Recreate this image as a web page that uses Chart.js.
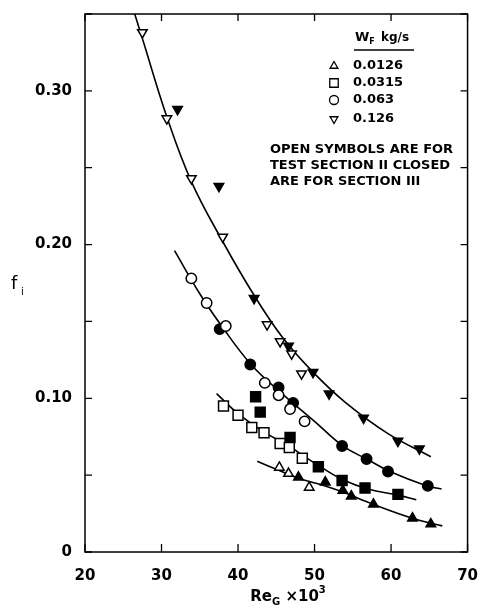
<!DOCTYPE html>
<html lang="en">
<head>
<meta charset="UTF-8">
<title>Interfacial friction factor vs gas Reynolds number</title>
<script src="https://cdn.jsdelivr.net/npm/chart.js@4"></script>
<style>
    * { margin: 0; padding: 0; box-sizing: border-box; }
    body { background: #fff; width: 485px; height: 609px; overflow: hidden; }
    canvas { display: block; }
</style>
</head>
<body>
<canvas id="chart" width="485" height="609"></canvas>
<script>
// f_i against Re_G x 10^3 for four liquid flow rates W_F (kg/s)
const flowRates = ['0.0126', '0.0315', '0.063', '0.126'];
const xTickLabels = ['20', '30', '40', '50', '60', '70'];
const yTickLabels = ['0', '0.10', '0.20', '0.30'];
const noteLines = ['OPEN SYMBOLS ARE FOR', 'TEST SECTION II CLOSED', 'ARE FOR SECTION III'];

// [Re_G x 10^3, f_i]
// W_F = 0.0126 (triangles)
const open0126 = [[45.4, 0.055], [46.6, 0.051], [49.3, 0.042]];
const closed0126 = [[47.9, 0.0486], [51.4, 0.0454], [53.7, 0.040], [54.8, 0.0363], [57.7, 0.031], [62.8, 0.022], [65.2, 0.0182]];
const curve0126 = [[42.5, 0.059], [45.4, 0.053], [47.9, 0.048], [51.4, 0.043], [53.7, 0.039], [57.7, 0.031], [62.8, 0.022], [66.7, 0.017]];

// W_F = 0.0315 (squares)
const open0315 = [[38.1, 0.095], [40.0, 0.089], [41.8, 0.081], [43.4, 0.0776], [45.5, 0.0706], [46.7, 0.068], [48.4, 0.061]];
const closed0315 = [[42.3, 0.101], [42.9, 0.091], [46.8, 0.0745], [50.5, 0.0555], [53.6, 0.0465], [56.6, 0.0416], [60.9, 0.0375]];
const curve0315 = [[37.2, 0.103], [40.0, 0.090], [43.4, 0.078], [46.7, 0.069], [48.4, 0.063], [50.6, 0.056], [53.7, 0.047], [57.0, 0.041], [60.9, 0.037], [63.3, 0.034]];

// W_F = 0.063 (circles)
const open063 = [[33.9, 0.178], [35.9, 0.162], [38.4, 0.147], [43.5, 0.110], [45.3, 0.102], [46.8, 0.093], [48.7, 0.085]];
const closed063 = [[37.6, 0.145], [41.6, 0.122], [45.3, 0.107], [47.2, 0.097], [53.6, 0.069], [56.8, 0.0605], [59.6, 0.0524], [64.8, 0.043]];
const curve063 = [[31.7, 0.196], [35.0, 0.168], [38.0, 0.146], [41.7, 0.122], [45.3, 0.105], [50.0, 0.085], [53.7, 0.069], [57.0, 0.060], [60.0, 0.052], [64.7, 0.043], [66.6, 0.041]];

// W_F = 0.126 (inverted triangles)
const open126 = [[27.5, 0.338], [30.7, 0.282], [33.9, 0.243], [38.0, 0.205], [43.8, 0.148], [45.5, 0.137], [47.0, 0.129], [48.3, 0.116]];
const closed126 = [[32.1, 0.288], [37.5, 0.238], [42.1, 0.165], [46.6, 0.134], [49.8, 0.117], [51.9, 0.103], [56.4, 0.0872], [60.9, 0.0722], [63.7, 0.0672]];
const curve126 = [[26.5, 0.350], [27.5, 0.334], [30.7, 0.283], [33.9, 0.241], [38.0, 0.202], [42.1, 0.167], [45.9, 0.139], [49.8, 0.117], [54.1, 0.097], [59.6, 0.077], [65.2, 0.062]];

const FONT = 'DejaVu Sans';
const pts = arr => arr.map(([x, y]) => ({ x: x, y: y }));

const markerRadius = { triangle: 5.5, rect: 7, circle: 5.2 };

function markers(arr, style, rot, filled) {
    return {
        type: 'scatter',
        data: pts(arr),
        pointStyle: style,
        rotation: rot,
        pointRadius: markerRadius[style],
        backgroundColor: filled ? '#000' : '#fff',
        borderColor: '#000',
        borderWidth: 1.5,
        order: 0
    };
}

function curve(arr) {
    return {
        type: 'line',
        data: pts(arr),
        borderColor: '#000',
        borderWidth: 1.6,
        pointRadius: 0,
        fill: false,
        tension: 0.4,
        order: 1
    };
}

const symbolStyles = [['triangle', 0], ['rect', 0], ['circle', 0], ['triangle', 180]];

// frame, inward ticks, legend and axis titles
const decorations = {
    id: 'decorations',
    afterDraw(chart) {
        const ctx = chart.ctx;
        const a = chart.chartArea;
        const x = chart.scales.x;
        const y = chart.scales.y;
        ctx.save();
        ctx.strokeStyle = '#000';
        ctx.lineWidth = 1.5;
        ctx.strokeRect(a.left, a.top, a.right - a.left, a.bottom - a.top);

        ctx.lineWidth = 1.3;
        ctx.beginPath();
        y.ticks.forEach(t => {
            const py = y.getPixelForValue(t.value);
            ctx.moveTo(a.left, py); ctx.lineTo(a.left + 7, py);
            ctx.moveTo(a.right, py); ctx.lineTo(a.right - 7, py);
        });
        x.ticks.forEach(t => {
            const px = x.getPixelForValue(t.value);
            ctx.moveTo(px, a.bottom); ctx.lineTo(px, a.bottom - 8);
            ctx.moveTo(px, a.top); ctx.lineTo(px, a.top + 7);
        });
        ctx.stroke();

        // legend
        ctx.fillStyle = '#000';
        ctx.textBaseline = 'middle';
        ctx.textAlign = 'left';
        ctx.font = 'bold 13px ' + FONT;
        ctx.fillText('W', 355, 38);
        const wW = ctx.measureText('W').width;
        ctx.font = 'bold 8px ' + FONT;
        ctx.fillText('F', 355 + wW, 42);
        ctx.font = 'bold 12px ' + FONT;
        ctx.fillText('kg/s', 381, 38);
        ctx.beginPath();
        ctx.moveTo(354, 50); ctx.lineTo(414, 50);
        ctx.stroke();

        const rows = [66, 83, 100, 119];
        ctx.font = 'bold 13px ' + FONT;
        flowRates.forEach((lab, i) => {
            const st = symbolStyles[i][0];
            ctx.fillStyle = '#fff';
            ctx.strokeStyle = '#000';
            Chart.helpers.drawPoint(ctx, {
                pointStyle: st,
                rotation: symbolStyles[i][1],
                radius: st === 'rect' ? 6 : 4.5,
                borderWidth: 1.3
            }, 334, rows[i]);
            ctx.fillStyle = '#000';
            ctx.fillText(lab, 353, rows[i]);
        });

        ctx.font = 'bold 13px ' + FONT;
        noteLines.forEach((line, i) => {
            ctx.fillText(line, 270, 150 + i * 16);
        });

        // y title f_i
        ctx.font = '18px ' + FONT;
        ctx.fillText('f', 11, 284);
        ctx.font = '10px ' + FONT;
        ctx.fillText('i', 21, 292);

        // x title Re_G x 10^3
        const big = 'bold 15px ' + FONT;
        const small = 'bold 10px ' + FONT;
        const parts = [['Re', big, 0], ['G', small, 5], [' \u00d710', big, 0], ['3', small, -7]];
        let total = 0;
        parts.forEach(p => { ctx.font = p[1]; total += ctx.measureText(p[0]).width; });
        let cx = 288 - total / 2;
        parts.forEach(p => {
            ctx.font = p[1];
            ctx.fillText(p[0], cx, 597 + p[2]);
            cx += ctx.measureText(p[0]).width;
        });
        ctx.restore();
    }
};

const tickFont = { family: FONT, size: 15, weight: 'bold' };

new Chart(document.getElementById('chart'), {
    type: 'scatter',
    data: {
        datasets: [
            markers(open0126, 'triangle', 0, false),
            markers(closed0126, 'triangle', 0, true),
            markers(open0315, 'rect', 0, false),
            markers(closed0315, 'rect', 0, true),
            markers(open063, 'circle', 0, false),
            markers(closed063, 'circle', 0, true),
            markers(open126, 'triangle', 180, false),
            markers(closed126, 'triangle', 180, true),
            curve(curve0126),
            curve(curve0315),
            curve(curve063),
            curve(curve126)
        ]
    },
    options: {
        responsive: false,
        animation: false,
        layout: { padding: { top: 11, right: 11, left: 0, bottom: 0 } },
        plugins: { legend: { display: false }, tooltip: { enabled: false } },
        scales: {
            x: {
                type: 'linear',
                min: 20,
                max: 70,
                grid: { display: false },
                border: { display: false },
                ticks: {
                    stepSize: 10,
                    autoSkip: false,
                    maxRotation: 0,
                    padding: 7,
                    color: '#000',
                    font: tickFont,
                    callback: (v, i) => xTickLabels[i] ?? ''
                },
                afterFit: s => { s.height = 57; }
            },
            y: {
                type: 'linear',
                min: 0,
                max: 0.35,
                grid: { display: false },
                border: { display: false },
                ticks: {
                    stepSize: 0.05,
                    autoSkip: false,
                    padding: 5,
                    color: '#000',
                    font: tickFont,
                    callback: (v, i) => (i % 2 === 0 ? yTickLabels[i / 2] ?? '' : '')
                },
                afterFit: s => { s.width = 85; }
            }
        }
    },
    plugins: [decorations]
});
</script>
</body>
</html>
